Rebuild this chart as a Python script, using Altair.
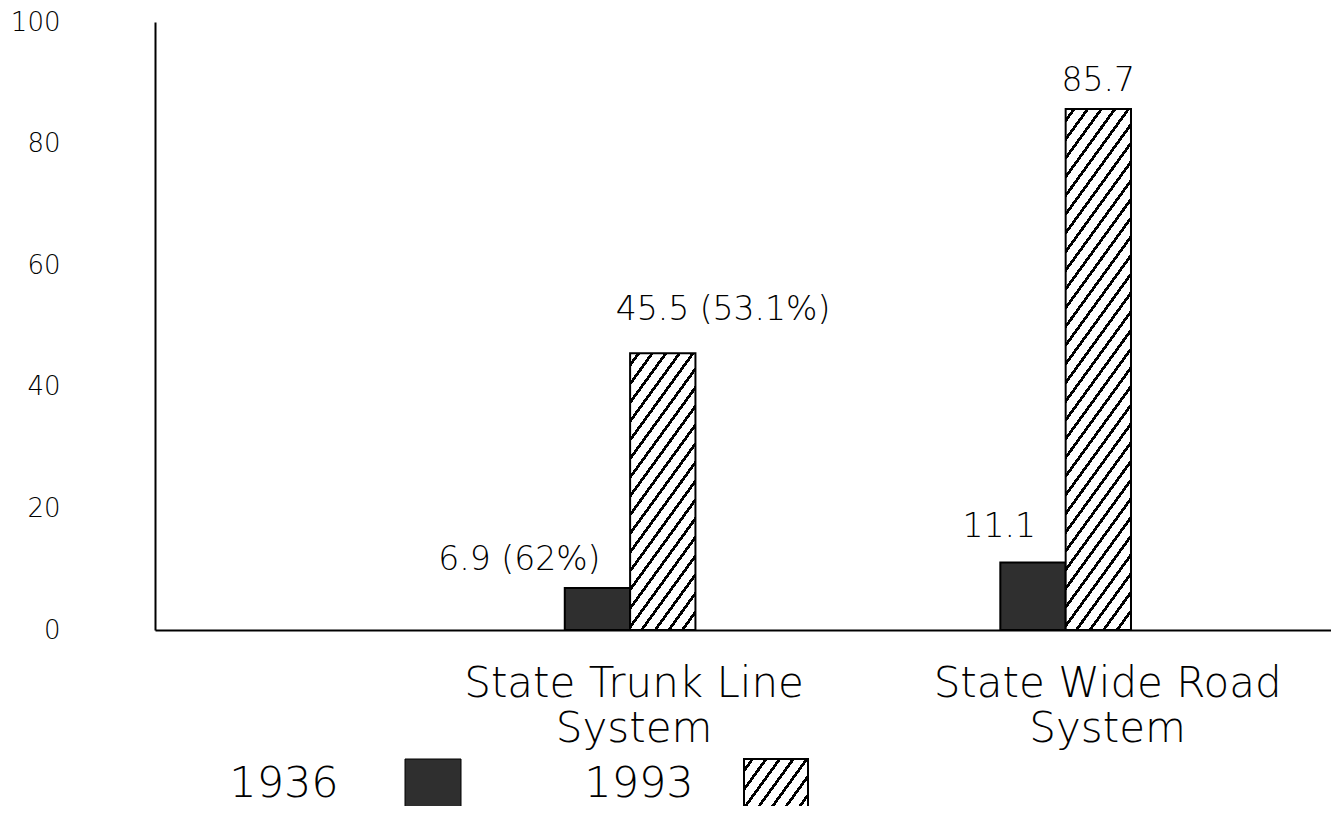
import math
import altair as alt
import pandas as pd

# ---- data ----
categories = ["State Trunk Line System", "State Wide Road System"]
years = ["1936", "1993"]
cat_col = ["State Trunk Line System", "State Trunk Line System",
           "State Wide Road System", "State Wide Road System"]
year_col = ["1936", "1993", "1936", "1993"]
values = [6.9, 45.5, 11.1, 85.7]
labels = ["6.9 (62%)", "45.5 (53.1%)", "11.1", "85.7"]
y_ticks = [0, 20, 40, 60, 80, 100]

df = pd.DataFrame({"category": cat_col, "year": year_col, "value": values, "label": labels})
legend_df = pd.DataFrame({"year": years})

# ---- layout / style ----
W, H = 1176, 608
FONT = "DejaVu Sans"
WEIGHT = 200
DARK = "#2f2f2f"
P_IN, P_OUT = 0.70, 0.70
step = W / (len(categories) - P_IN + 2 * P_OUT)
bar_w = step * (1 - P_IN) / 2

THETA = math.radians(54)
PERIOD = 11.0
THICK = 2.8


def hatch(w, h):
    s, c = math.sin(THETA), math.cos(THETA)
    smax = w * s + h * c
    k = smax / (w * w * s * s + h * h * c * c)
    stops = [{"offset": 0, "color": "white"}]
    j = 0
    while True:
        a = (j * PERIOD + PERIOD * 0.5) / smax
        if a >= 1:
            break
        b = min(1.0, (j * PERIOD + PERIOD * 0.5 + THICK) / smax)
        stops += [{"offset": a, "color": "white"}, {"offset": a, "color": "black"},
                  {"offset": b, "color": "black"}, {"offset": b, "color": "white"}]
        j += 1
    stops.append({"offset": 1, "color": "white"})
    return {"gradient": "linear", "x1": 0, "y1": 0,
            "x2": k * w * s, "y2": k * h * c, "stops": stops}


base = alt.Chart(df).encode(
    x=alt.X("category:N", sort=categories,
            scale=alt.Scale(domain=categories, paddingInner=P_IN, paddingOuter=P_OUT, align=0.672),
            axis=alt.Axis(title=None, ticks=False, tickSize=0, labelPadding=33,
                          labelAngle=0, labelAlign="center", labelBaseline="top",
                          labelFont=FONT, labelFontSize=42, labelFontWeight=WEIGHT,
                          labelColor="black", labelLineHeight=45, labelLimit=1000,
                          labelExpr="[slice(datum.label, 0, lastindexof(datum.label, ' ')), "
                                    "slice(datum.label, lastindexof(datum.label, ' ') + 1)]",
                          labelOffset={"condition": {"test": "datum.value == 'State Wide Road System'",
                                                     "value": 42}, "value": 4},
                          domainColor="black", domainWidth=2)),
    xOffset=alt.XOffset("year:N", sort=years,
                        scale=alt.Scale(domain=years, paddingInner=0, paddingOuter=0)),
    y=alt.Y("value:Q", scale=alt.Scale(domain=[0, 100], nice=False),
            axis=alt.Axis(title=None, values=y_ticks, grid=False, ticks=False, tickSize=0,
                          labelPadding=95, labelAlign="right", labelBaseline="middle",
                          labelFont=FONT, labelFontSize=26, labelFontWeight=WEIGHT,
                          labelColor="black", domainColor="black", domainWidth=2)),
)

layers = []
layers.append(base.transform_filter(alt.datum.year == "1936")
              .mark_bar(fill=DARK, stroke="black", strokeWidth=2))
for cat, yr, val in zip(cat_col, year_col, values):
    if yr != "1993":
        continue
    layers.append(base.transform_filter((alt.datum.category == cat) & (alt.datum.year == "1993"))
                  .mark_bar(fill=hatch(bar_w, val / 100 * H), stroke="black", strokeWidth=2))

text_style = [("right", 3, -18), ("left", -47, -33), ("right", 3, -26), ("center", 0, -18)]
for (cat, yr), (al, dx, dy) in zip(zip(cat_col, year_col), text_style):
    layers.append(base.transform_filter((alt.datum.category == cat) & (alt.datum.year == yr))
                  .mark_text(align=al, dx=dx, dy=dy, baseline="alphabetic", font=FONT,
                             fontSize=33, fontWeight=WEIGHT, color="black")
                  .encode(text="label:N"))

# ---- legend (text left of swatch) ----
leg = alt.Chart(legend_df)
LEG_BASE = 775
LEG_SIZE = 43
layers.append(leg.transform_filter(alt.datum.year == "1936")
              .mark_text(align="center", baseline="alphabetic", font=FONT, fontSize=LEG_SIZE,
                         fontWeight=WEIGHT, color="black")
              .encode(x=alt.value(129), y=alt.value(LEG_BASE), text="year:N"))
layers.append(leg.transform_filter(alt.datum.year == "1936")
              .mark_rect(fill=DARK, stroke="black", strokeWidth=1)
              .encode(x=alt.value(250), x2=alt.value(306), y=alt.value(737), y2=alt.value(785)))
layers.append(leg.transform_filter(alt.datum.year == "1993")
              .mark_text(align="center", baseline="alphabetic", font=FONT, fontSize=LEG_SIZE,
                         fontWeight=WEIGHT, color="black")
              .encode(x=alt.value(484), y=alt.value(LEG_BASE), text="year:N"))
layers.append(leg.transform_filter(alt.datum.year == "1993")
              .mark_rect(fill=hatch(64, 48), stroke="black", strokeWidth=2)
              .encode(x=alt.value(589), x2=alt.value(653), y=alt.value(737), y2=alt.value(785)))

chart = alt.layer(*layers).properties(
    width=W, height=H,
    padding={"left": 147, "top": 14, "right": 0, "bottom": 176},
    autosize=alt.AutoSizeParams(type="none"),
    background="white",
).configure_view(stroke=None)

chart.save("out.html", embed_options={"renderer": "svg", "actions": False})
